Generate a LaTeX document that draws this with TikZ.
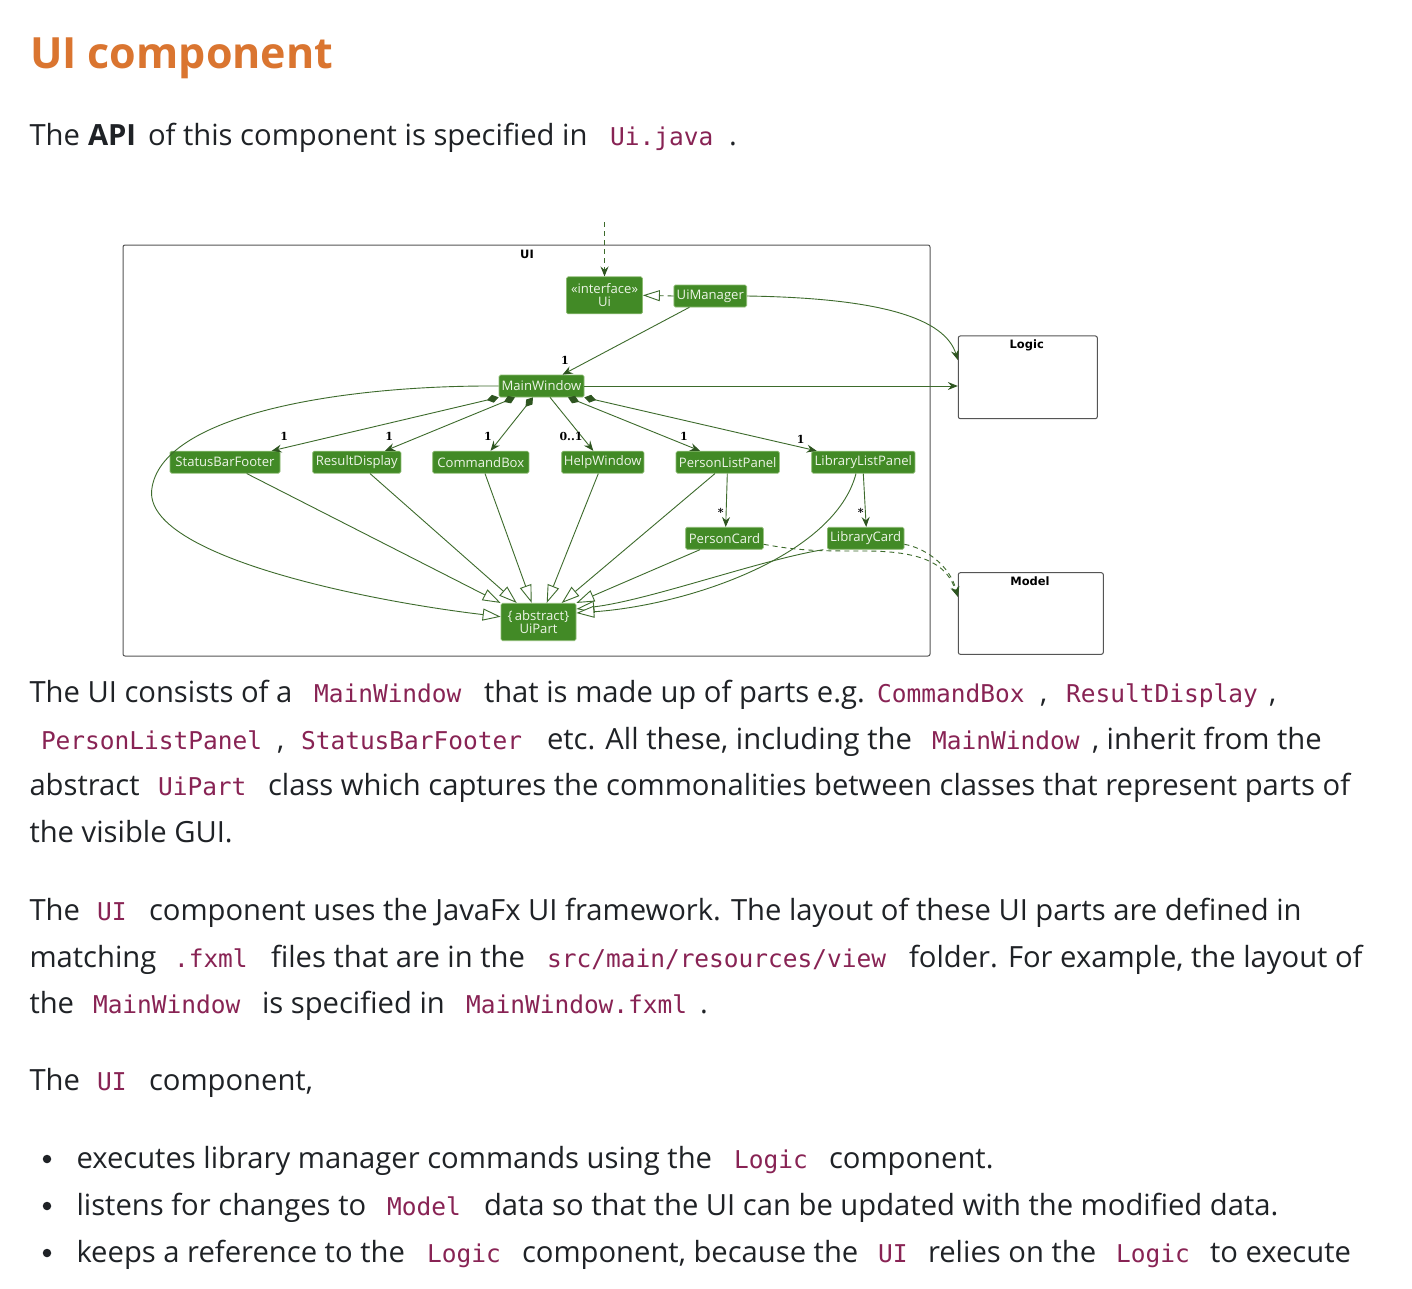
\documentclass[tikz,border=0pt]{standalone}
\usepackage{fontspec}
\setmainfont{Open Sans}
\newfontfamily\codefam{DejaVu Sans Mono}
\newfontfamily\umlfam{Open Sans}
\newfontfamily\pkgfam{DejaVu Sans}
\newfontfamily\multfam{DejaVu Serif}
\usetikzlibrary{arrows.meta}
\definecolor{bodyc}{HTML}{1F2226}
\definecolor{codec}{HTML}{882354}
\definecolor{headc}{HTML}{DA7530}
\definecolor{boxg}{HTML}{428A26}
\definecolor{boxb}{HTML}{8DBB73}
\definecolor{edgec}{HTML}{3D6B2C}
\definecolor{arrc}{HTML}{2E5520}
\definecolor{boxt}{HTML}{EEF5E8}
\definecolor{framec}{HTML}{555555}
\newcommand{\cd}[1]{{\codefam\fontsize{24.5}{29}\selectfont\color{codec}#1}}
\begin{document}
\begin{tikzpicture}[x=1pt,y=-1pt,
  txt/.style={anchor=base west, inner sep=0pt, outer sep=0pt, text=bodyc, font=\fontsize{29.2}{34}\selectfont},
  umlbox/.style={draw=boxb, line width=0.7pt, fill=boxg, rounded corners=1.5pt, text=boxt,
     font=\umlfam\fontsize{13.1}{14}\selectfont, inner sep=0pt, minimum height=22pt, align=center},
  pkgframe/.style={draw=framec, line width=1pt, rounded corners=2pt, inner sep=0pt},
  ftitle/.style={font=\pkgfam\bfseries\fontsize{11.5}{13}\selectfont, text=black, inner sep=0pt},
  mult/.style={font=\multfam\bfseries\fontsize{11}{12}\selectfont, text=black, inner sep=0pt},
  edge/.style={draw=edgec, line width=0.9pt},
  assoc/.style={edge, -{Stealth[length=10pt, width=8pt, inset=3.5pt, color=arrc]}},
  comp/.style={edge, {Diamond[length=12pt, width=8pt, color=arrc]}-{Stealth[length=10pt, width=8pt, inset=3.5pt, color=arrc]}},
  gen/.style={edge, -{Triangle[length=18pt, width=12pt, fill=white, color=edgec]}},
  real/.style={edge, dash pattern=on 6pt off 4pt, -{Triangle[length=17pt, width=11pt, fill=white, color=edgec]}},
  dep/.style={edge, dash pattern=on 5pt off 4pt, -{Stealth[length=10pt, width=8pt, inset=3.5pt, color=arrc]}},
  bul/.style={circle, fill=bodyc, inner sep=0pt, minimum size=8.5pt}
]
\useasboundingbox[fill=white] (0,0) rectangle (1412,1288);

% ---------- heading and intro ----------
\node[txt, text=headc, font=\bfseries\fontsize{43}{50}\selectfont] (head) at (30,68) {UI component};
\node[txt] (i1) at (29.5,145) {The};
\node[txt, font=\bfseries\fontsize{29.2}{34}\selectfont] (i2) at (88,145) {API};
\node[txt] (i3) at (148,145) {of this component is specified in};
\node[txt] (i4) at (610,145) {\cd{Ui.java}};
\node[txt] (i5) at (729,145) {.};

% ---------- diagram: frames ----------
\node[pkgframe, minimum width=807pt, minimum height=411pt] (uifr) at (526.5,450.5) {};
\node[ftitle] (uit) at (527,254) {UI};
\node[pkgframe, minimum width=139pt, minimum height=82.7pt] (logic) at (1027.8,377.3) {};
\node[ftitle] (logict) at (1026.7,345) {Logic};
\node[pkgframe, minimum width=145pt, minimum height=81.6pt] (model) at (1030.8,613.5) {};
\node[ftitle] (modelt) at (1030,581) {Model};

% ---------- diagram: classes ----------
\node[umlbox, minimum width=76pt, minimum height=37pt] (ui) at (604.5,295.3) {«interface»\\[-1pt]Ui};
\node[umlbox, minimum width=72.7pt] (uimgr) at (710.3,296) {UiManager};
\node[umlbox, minimum width=85pt] (mainw) at (541.5,386) {MainWindow};
\node[umlbox, minimum width=110pt] (sbf) at (225,462.2) {StatusBarFooter};
\node[umlbox, minimum width=88.3pt] (rd) at (356.8,462.2) {ResultDisplay};
\node[umlbox, minimum width=96.3pt] (cb) at (480.8,462.2) {CommandBox};
\node[umlbox, minimum width=82.3pt] (hw) at (602.8,462.2) {HelpWindow};
\node[umlbox, minimum width=103.3pt] (plp) at (727.7,462.2) {PersonListPanel};
\node[umlbox, minimum width=103.3pt] (llp) at (863.3,462.2) {LibraryListPanel};
\node[umlbox, minimum width=77.7pt] (pc) at (724.5,538.3) {PersonCard};
\node[umlbox, minimum width=76.7pt] (lc) at (865.7,538.3) {LibraryCard};
\node[umlbox, minimum width=75pt, minimum height=37.4pt] (uipart) at (538.5,622) {\{\,abstract\}\\[-1pt]UiPart};

% ---------- diagram: connectors ----------
\coordinate (topin) at (604.5,222);
\draw[dep] (topin) -- (ui.north);
\draw[real] (uimgr.west) -- (ui.east);
\draw[assoc] ([xshift=-21pt]uimgr.south) -- ([xshift=21pt]mainw.north);
\node[mult] (m0) at (565,360) {1};
\draw[assoc] (mainw.east) -- (logic.west |- mainw.east);
\draw[assoc] (uimgr.east) .. controls (880,298) and (945,318) .. ([yshift=17.3pt]logic.west);

\draw[comp] (mainw.south west) -- ([xshift=46.7pt]sbf.north);
\draw[comp] ([xshift=-26.5pt]mainw.south) -- ([xshift=28.2pt]rd.north);
\draw[comp] ([xshift=-8.5pt]mainw.south) -- ([xshift=9.7pt]cb.north);
\draw[assoc] ([xshift=8.5pt]mainw.south) -- ([xshift=-9.5pt]hw.north);
\draw[comp] ([xshift=26.5pt]mainw.south) -- ([xshift=-27.7pt]plp.north);
\draw[comp] (mainw.south east) -- ([xshift=-46.6pt]llp.north);
\node[mult] (m1) at (284.3,436.7) {1};
\node[mult] (m2) at (389.3,436.7) {1};
\node[mult] (m3) at (488,436.7) {1};
\node[mult] (m4) at (571,436.7) {0..1};
\node[mult] (m5) at (684,436.5) {1};
\node[mult] (m6) at (800.7,439) {1};

\draw[assoc] ([xshift=-0.4pt]plp.south) -- ([xshift=1.2pt]pc.north);
\draw[assoc] (llp.south) -- ([xshift=0.5pt]lc.north);
\node[mult] (m7) at (720.7,512) {*};
\node[mult] (m8) at (860.7,512) {*};

\draw[gen] ([xshift=21.7pt]sbf.south) -- (uipart.north west);
\draw[gen] ([xshift=13.2pt]rd.south) -- ([xshift=-21.8pt]uipart.north);
\draw[gen] ([xshift=4.2pt]cb.south) -- ([xshift=-6.8pt]uipart.north);
\draw[gen] ([xshift=-4.5pt]hw.south) -- ([xshift=8.2pt]uipart.north);
\draw[gen] ([xshift=-12.7pt]plp.south) -- ([xshift=23.2pt]uipart.north);
\draw[gen] ([xshift=-24.5pt]pc.south) -- (uipart.north east);
\draw[gen] ([xshift=-42.4pt]lc.south) .. controls (760,560) and (650,600) .. ([yshift=13pt]uipart.east);
\draw[gen] ([xshift=-7.3pt]llp.south) .. controls (835,555) and (690,605) .. ([yshift=9pt]uipart.east);
\draw[gen] (mainw.west) .. controls (340,385) and (160,415) .. (151.7,490)
   .. controls (145,555) and (360,600) .. ([yshift=5.3pt]uipart.west);

\draw[dep] ([yshift=-6pt]pc.east) .. controls (800,551) and (820,551) .. (865,551)
   .. controls (930,551) and (948,568) .. ([yshift=16.8pt]model.west);
\draw[dep] ([yshift=-6pt]lc.east) .. controls (925,548) and (950,565) .. ([yshift=16.8pt]model.west);

% ---------- paragraph 1 ----------
\node[txt] (a1) at (29.5,702) {The UI consists of a};
\node[txt] (a2) at (314,702) {\cd{MainWindow}};
\node[txt] (a3) at (484,702) {that is made up of parts e.g.};
\node[txt] (a4) at (877,702) {\cd{CommandBox}};
\node[txt] (a5) at (1040,702) {,};
\node[txt] (a6) at (1066,702) {\cd{ResultDisplay}};
\node[txt] (a7) at (1269,702) {,};

\node[txt] (b1) at (41,749) {\cd{PersonListPanel}};
\node[txt] (b2) at (277,749) {,};
\node[txt] (b3) at (301,749) {\cd{StatusBarFooter}};
\node[txt] (b4) at (547,749) {etc. All these, including the};
\node[txt] (b5) at (932,749) {\cd{MainWindow}};
\node[txt] (b6) at (1092,749) {, inherit from the};

\node[txt] (c1) at (29.5,795) {abstract};
\node[txt] (c2) at (158,795) {\cd{UiPart}};
\node[txt] (c3) at (268,795) {class which captures the commonalities between classes that represent parts of};

\node[txt] (d1) at (29.5,842) {the visible GUI.};

% ---------- paragraph 2 ----------
\node[txt] (e1) at (29.5,920) {The};
\node[txt] (e2) at (97,920) {\cd{UI}};
\node[txt] (e3) at (149,920) {component uses the JavaFx UI framework. The layout of these UI parts are defined in};

\node[txt] (f1) at (29.5,967) {matching};
\node[txt] (f2) at (174,967) {\cd{.fxml}};
\node[txt] (f3) at (271,967) {files that are in the};
\node[txt] (f4) at (547,967) {\cd{src/main/resources/view}};
\node[txt] (f5) at (909,967) {folder. For example, the layout of};

\node[txt] (g1) at (29.5,1013) {the};
\node[txt] (g2) at (93,1013) {\cd{MainWindow}};
\node[txt] (g3) at (262,1013) {is specified in};
\node[txt] (g4) at (466,1013) {\cd{MainWindow.fxml}};
\node[txt] (g5) at (700,1013) {.};

% ---------- paragraph 3 ----------
\node[txt] (h1) at (29.5,1090) {The};
\node[txt] (h2) at (97,1090) {\cd{UI}};
\node[txt] (h3) at (149,1090) {component,};

% ---------- bullets ----------
\node[bul] (bd1) at (47,1159) {};
\node[txt] (p1) at (76.5,1168) {executes library manager commands using the};
\node[txt] (p2) at (734,1168) {\cd{Logic}};
\node[txt] (p3) at (829,1168) {component.};

\node[bul] (bd2) at (47,1206) {};
\node[txt] (q1) at (76.5,1215) {listens for changes to};
\node[txt] (q2) at (387,1215) {\cd{Model}};
\node[txt] (q3) at (484,1215) {data so that the UI can be updated with the modified data.};

\node[bul] (bd3) at (47,1253) {};
\node[txt] (r1) at (76.5,1262) {keeps a reference to the};
\node[txt] (r2) at (427,1262) {\cd{Logic}};
\node[txt] (r3) at (522,1262) {component, because the};
\node[txt] (r4) at (878,1262) {\cd{UI}};
\node[txt] (r5) at (928,1262) {relies on the};
\node[txt] (r6) at (1116,1262) {\cd{Logic}};
\node[txt] (r7) at (1210,1262) {to execute};
\end{tikzpicture}
\end{document}
